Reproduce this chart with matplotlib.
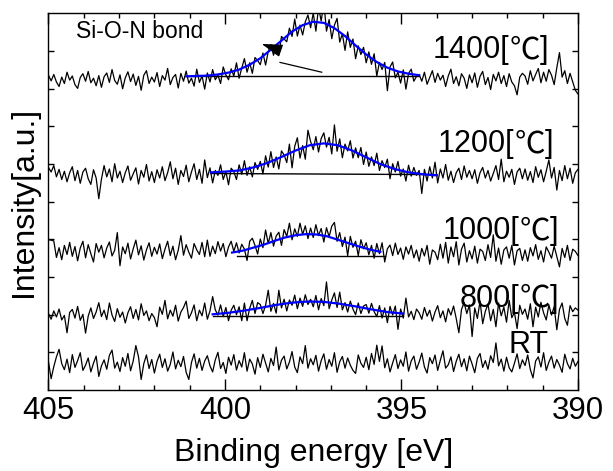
import numpy as np
import matplotlib
matplotlib.use('Agg')
import matplotlib.pyplot as plt
from matplotlib.transforms import offset_copy

# N 1s spectra, 405 -> 390 eV in 0.075 eV steps (201 channels), intensity in 0.01 a.u.
energy = np.linspace(405, 390, 201)

int_1400 = [
    836, 821, 838, 818, 806, 831, 814, 844, 823, 834, 811, 801, 830, 840, 820, 846, 816, 828, 808, 835,
    804, 832, 842, 817, 851, 822, 812, 837, 800, 829, 845, 819, 839, 809, 833, 796, 836, 848, 814, 831,
    818, 843, 806, 835, 823, 854, 811, 830, 838, 802, 841, 820, 847, 815, 828, 807, 852, 817, 834, 799,
    842, 818, 851, 824, 836, 814, 858, 837, 824, 853, 834, 869, 828, 855, 880, 844, 869, 841, 883, 875,
    864, 895, 863, 899, 917, 889, 914, 890, 939, 932, 925, 961, 939, 985, 940, 969, 943, 978, 996, 962,
    1001, 953, 1016, 980, 1029, 953, 984, 933, 969, 987, 924, 946, 902, 951, 910, 932, 880, 914, 891, 910,
    869, 898, 865, 893, 834, 870, 851, 870, 795, 858, 871, 829, 844, 815, 850, 799, 841, 852, 820, 833,
    838, 820, 844, 812, 830, 848, 817, 841, 823, 836, 806, 834, 852, 814, 832, 808, 840, 828, 801, 837,
    816, 842, 804, 833, 846, 811, 830, 798, 838, 821, 844, 814, 835, 806, 840, 818, 808, 784, 831, 841,
    834, 812, 848, 821, 838, 854, 816, 844, 820, 851, 836, 811, 856, 896, 831, 848, 814, 841, 818, 796, 786,
]
int_1200 = [
    591, 579, 596, 566, 586, 559, 581, 553, 577, 593, 556, 583, 549, 579, 589, 561, 546, 585, 563, 508,
    560, 596, 566, 587, 553, 601, 563, 581, 551, 577, 595, 557, 574, 590, 547, 583, 565, 599, 555, 580,
    551, 585, 563, 593, 556, 577, 606, 561, 589, 546, 583, 567, 597, 553, 579, 601, 559, 586, 549, 611,
    564, 590, 550, 583, 570, 598, 559, 580, 545, 589, 580, 559, 598, 573, 609, 570, 593, 566, 604, 586,
    607, 574, 622, 592, 633, 591, 619, 587, 635, 624, 604, 653, 590, 647, 670, 616, 649, 613, 690, 660,
    638, 673, 632, 668, 683, 645, 671, 627, 704, 634, 667, 617, 653, 635, 662, 616, 643, 617, 644, 599,
    632, 594, 619, 596, 629, 583, 609, 591, 613, 561, 601, 579, 607, 568, 587, 555, 597, 568, 591, 570,
    583, 522, 586, 555, 593, 563, 605, 550, 587, 563, 599, 557, 581, 551, 577, 589, 559, 595, 565, 583,
    561, 585, 549, 577, 591, 563, 583, 555, 575, 596, 559, 613, 553, 581, 565, 586, 546, 579, 589, 561,
    587, 557, 580, 551, 593, 565, 585, 553, 581, 611, 563, 591, 531, 583, 556, 596, 561, 589, 549, 577, 586,
]
int_1000 = [
    399, 398, 396, 352, 378, 346, 384, 360, 392, 355, 381, 343, 377, 395, 351, 386, 362, 340, 389, 366,
    384, 351, 377, 393, 356, 371, 418, 330, 380, 362, 390, 348, 375, 398, 359, 383, 345, 372, 391, 355,
    379, 361, 388, 349, 374, 395, 357, 382, 346, 371, 410, 358, 386, 366, 350, 389, 372, 360, 392, 354,
    398, 355, 382, 362, 394, 369, 389, 354, 380, 395, 368, 391, 364, 387, 374, 344, 395, 403, 384, 361,
    401, 378, 425, 389, 418, 382, 409, 419, 384, 426, 408, 443, 399, 428, 408, 443, 413, 436, 402, 430,
    405, 439, 410, 429, 393, 431, 407, 435, 445, 395, 418, 381, 406, 357, 408, 379, 395, 357, 399, 375,
    391, 359, 384, 350, 389, 362, 391, 340, 375, 385, 357, 390, 360, 377, 347, 380, 361, 384, 351, 372,
    342, 376, 356, 384, 334, 372, 366, 346, 387, 350, 392, 337, 380, 354, 394, 332, 374, 390, 340, 370,
    348, 382, 337, 374, 368, 344, 386, 352, 412, 342, 377, 334, 372, 380, 350, 384, 332, 370, 376, 344,
    372, 342, 378, 356, 386, 347, 370, 340, 380, 366, 350, 382, 354, 327, 376, 352, 384, 344, 374, 368, 357,
]
int_800 = [
    203, 188, 210, 194, 215, 186, 198, 152, 206, 214, 191, 222, 185, 201, 151, 196, 218, 190, 207, 232,
    195, 212, 187, 231, 199, 182, 216, 193, 207, 178, 205, 221, 190, 214, 186, 229, 198, 210, 184, 203,
    192, 168, 220, 201, 238, 189, 212, 196, 225, 183, 207, 219, 236, 190, 205, 226, 184, 212, 197, 231,
    188, 210, 248, 213, 199, 226, 195, 219, 184, 212, 225, 200, 221, 184, 231, 184, 217, 238, 203, 232,
    227, 203, 225, 265, 209, 230, 204, 265, 218, 241, 210, 239, 225, 252, 216, 244, 222, 253, 227, 241,
    221, 251, 213, 243, 224, 287, 216, 239, 258, 219, 260, 213, 232, 207, 236, 215, 200, 231, 203, 223,
    227, 204, 230, 208, 195, 224, 191, 218, 179, 222, 199, 223, 161, 215, 191, 244, 194, 209, 187, 215,
    205, 188, 219, 196, 212, 183, 207, 224, 192, 210, 181, 216, 199, 223, 190, 152, 214, 232, 203, 226,
    142, 218, 190, 236, 176, 209, 228, 184, 214, 168, 231, 197, 220, 180, 238, 192, 206, 163, 225, 201,
    215, 188, 229, 168, 220, 194, 233, 205, 186, 226, 199, 221, 160, 214, 231, 190, 172, 224, 208, 218, 212,
]
int_rt = [
    75, 30, 62, 88, 108, 70, 54, 82, 46, 94, 60, 78, 99, 52, 66, 85, 48, 71, 90, 36,
    64, 80, 55, 92, 106, 58, 74, 49, 86, 63, 97, 51, 77, 118, 88, 28, 70, 93, 57, 81,
    45, 76, 95, 60, 83, 50, 68, 101, 56, 79, 62, 89, 47, 28, 73, 96, 58, 84, 52, 77,
    91, 64, 48, 80, 100, 57, 73, 44, 87, 66, 94, 53, 78, 61, 99, 50, 82, 69, 42, 86,
    60, 95, 72, 48, 84, 65, 114, 53, 79, 90, 56, 74, 102, 61, 46, 88, 70, 118, 58, 83,
    67, 92, 50, 78, 96, 55, 81, 63, 99, 47, 75, 89, 58, 85, 66, 52, 44, 93, 71, 60,
    87, 54, 97, 68, 119, 76, 117, 59, 83, 48, 72, 94, 57, 80, 63, 101, 50, 77, 90, 55,
    74, 98, 61, 45, 86, 70, 93, 52, 79, 104, 58, 67, 88, 49, 76, 95, 62, 83, 51, 90,
    69, 46, 84, 97, 60, 78, 55, 91, 73, 125, 64, 82, 50, 87, 59, 48, 71, 96, 57, 80,
    65, 93, 54, 32, 77, 88, 61, 99, 52, 74, 90, 58, 81, 66, 47, 95, 70, 56, 84, 63, 76,
]

# Si-O-N component fits
fit_1400_e = [401.1, 400.8, 400.5, 400.2, 399.9, 399.6, 399.3, 399.0, 398.7, 398.4, 398.1, 397.8,
              397.5, 397.2, 396.9, 396.6, 396.3, 396.0, 395.7, 395.4, 395.1, 394.8, 394.5]
fit_1400_i = [8.33, 8.34, 8.35, 8.38, 8.43, 8.51, 8.64, 8.81, 9.04, 9.28, 9.52, 9.69,
              9.78, 9.75, 9.61, 9.40, 9.15, 8.91, 8.71, 8.56, 8.46, 8.40, 8.36]
fit_1200_e = [400.4, 400.0, 399.6, 399.2, 398.8, 398.4, 398.0, 397.6, 397.2, 396.8, 396.4, 396.0,
              395.6, 395.2, 394.8, 394.4, 394.0]
fit_1200_i = [5.78, 5.80, 5.83, 5.91, 6.03, 6.19, 6.36, 6.50, 6.55, 6.50, 6.36, 6.18,
              6.00, 5.87, 5.78, 5.73, 5.70]
fit_1000_e = [399.8, 399.5, 399.2, 398.9, 398.6, 398.3, 398.0, 397.7, 397.4, 397.1, 396.8, 396.5,
              396.2, 395.9, 395.6]
fit_1000_i = [3.65, 3.70, 3.78, 3.86, 3.96, 4.05, 4.11, 4.14, 4.13, 4.08, 3.99, 3.90,
              3.81, 3.73, 3.67]
fit_800_e = [400.35, 399.90, 399.45, 399.00, 398.55, 398.10, 397.65, 397.20, 396.75, 396.30,
             395.85, 395.40, 394.95]
fit_800_i = [2.01, 2.05, 2.11, 2.18, 2.26, 2.32, 2.35, 2.34, 2.29, 2.22, 2.14, 2.07, 2.03]

# linear backgrounds under the fits: (E start, E end, I start, I end)
bg_1400 = (401.05, 394.5, 8.33, 8.33)
bg_1200 = (400.4, 394.0, 5.75, 5.72)
bg_1000 = (399.67, 395.48, 3.57, 3.57)
bg_800 = (400.35, 394.95, 1.97, 1.97)

labels = ['1400[℃]', '1200[℃]', '1000[℃]', '800[℃]', 'RT']
label_e = [390.84, 390.7, 390.56, 390.56, 390.84]
label_i = [8.81, 6.31, 4.00, 2.21, 0.97]   # baselines of the label text

plt.rcParams['font.family'] = ['Liberation Sans', 'Noto Sans CJK JP']

fig = plt.figure(figsize=(6.13, 4.71), dpi=100)
ax = fig.add_axes([0.0791, 0.172, 0.8638, 0.7994])

for counts in [int_1400, int_1200, int_1000, int_800, int_rt]:
    ax.plot(energy, np.array(counts) / 100, color='black', lw=0.9)

for e0, e1, i0, i1 in [bg_1400, bg_1200, bg_1000, bg_800]:
    ax.plot([e0, e1], [i0, i1], color='black', lw=1.0)

for fe, fi in [(fit_1400_e, fit_1400_i), (fit_1200_e, fit_1200_i),
               (fit_1000_e, fit_1000_i), (fit_800_e, fit_800_i)]:
    ax.plot(fe, fi, color='#0000ff', lw=1.6)

# temperature labels: digits/brackets in Liberation Sans, the ℃ sign from the CJK font,
# laid out right to left so the right edge sits at label_e
renderer = fig.canvas.get_renderer()
for s, e, i in zip(labels, label_e, label_i):
    if '℃' in s:
        head, tail = s.split('℃')
        pieces = [(tail, 'Liberation Sans'), ('℃', 'Noto Sans CJK JP'), (head, 'Liberation Sans')]
    else:
        pieces = [(s, 'Liberation Sans')]
    shift = 0.0
    for txt, fam in pieces:
        tr = offset_copy(ax.transData, fig=fig, x=-shift, y=0, units='dots')
        t = ax.text(e, i, txt, ha='right', va='baseline', fontsize=22, family=fam, transform=tr)
        shift += t.get_window_extent(renderer).width

ax.text(404.22, 9.51, 'Si-O-N bond', ha='left', va='center', fontsize=16.5)

# pointer to the Si-O-N component: thin shaft plus a separate filled head
ax.plot([397.26, 398.44], [8.44, 8.70], color='black', lw=0.9)
ax.annotate('', xy=(398.96, 9.19), xytext=(398.44, 9.02),
            arrowprops=dict(arrowstyle='-|>,head_length=1.3,head_width=0.4',
                            color='black', lw=0.8, shrinkA=0, shrinkB=0))

ax.set_xlim(405, 390)
ax.set_ylim(0, 10)
ax.set_xticks([405, 400, 395, 390])
ax.set_xticks(np.arange(390, 406, 1), minor=True)
ax.set_yticks(range(1, 10))
ax.set_yticklabels([])
ax.tick_params(axis='both', which='both', direction='in', top=True, right=True, width=1)
ax.tick_params(axis='x', which='major', length=8, labelsize=22.5, pad=4)
ax.tick_params(axis='x', which='minor', length=3.6)
ax.tick_params(axis='y', which='major', length=4.5)
for sp in ax.spines.values():
    sp.set_linewidth(1.0)

ax.set_xlabel('Binding energy [eV]', fontsize=23, labelpad=9)
ax.set_ylabel('Intensity[a.u.]', fontsize=23, labelpad=3)

fig.savefig('out.png', dpi=100)
